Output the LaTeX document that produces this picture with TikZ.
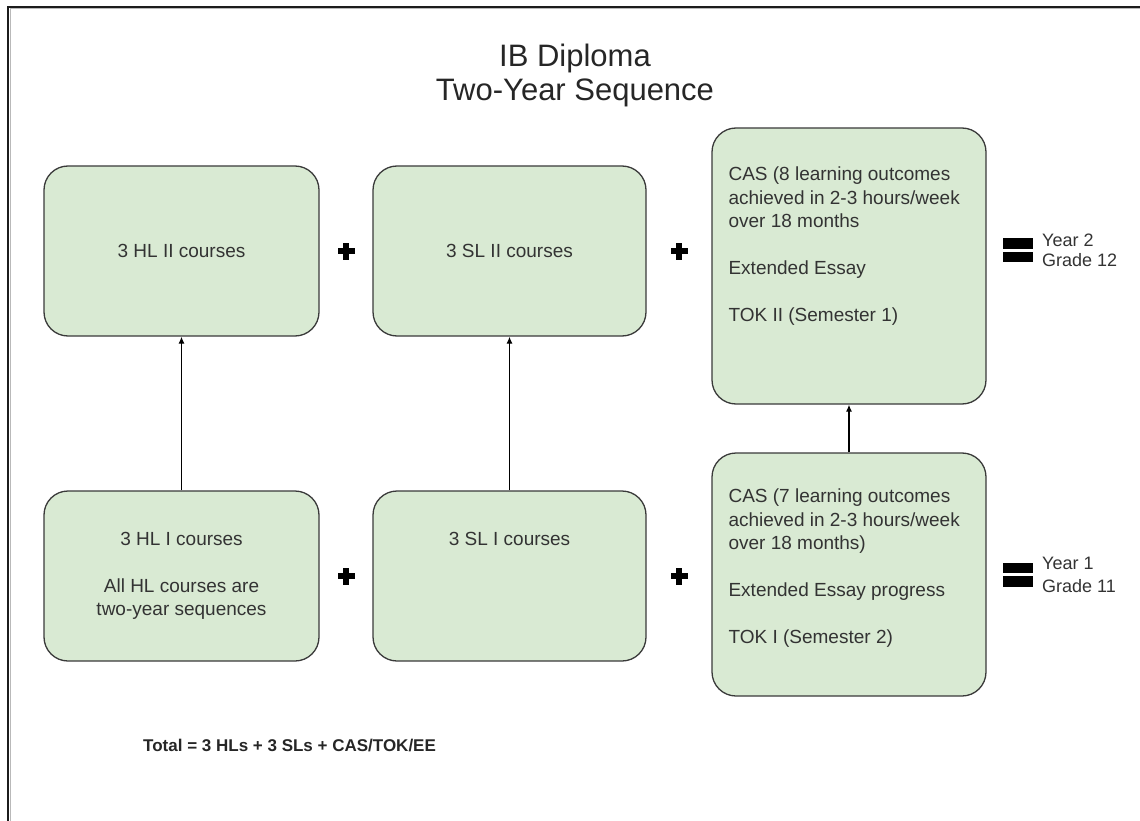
\documentclass[tikz,border=0pt]{standalone}
\usepackage{fontspec}
\setmainfont{Liberation Sans}
\usetikzlibrary{arrows.meta, calc}
\definecolor{boxgreen}{HTML}{D9EAD3}
\definecolor{boxline}{HTML}{3A3A3A}
\definecolor{frameline}{HTML}{1C1C1C}
\newcommand{\coursefont}{\fontsize{19}{23.5}\selectfont}

\begin{document}
\begin{tikzpicture}[x=1pt, y=-1pt,
        course/.style={draw=boxline, line width=1.3pt, fill=boxgreen, rounded corners=24pt,
                inner sep=0pt, align=center, font=\coursefont, text=black!80},
        casnote/.style={inner sep=0pt, align=left, font=\coursefont, text=black!80, anchor=north west},
        yearnote/.style={inner sep=0pt, align=left, anchor=west, text=black!80,
                font=\fontsize{18}{19.5}\selectfont},
        flow/.style={draw=black, line width=1.2pt, -{Latex[length=7pt, width=6pt]}}]

    \useasboundingbox (0,0) rectangle (1140,821);

    %% Frame
    \draw[gray!55, line width=1pt] (10,821) -- (10,9) -- (1140,9);
    \draw[frameline, line width=2pt] (8,821) -- (8,7) -- (1140,7);

    \node[inner sep=0pt, align=center, font=\fontsize{31}{34}\selectfont, text=black!85] (title)
    at (575,75) {IB Diploma\\Two-Year Sequence};

    %% Year 2
    \node[course, minimum width=275pt, minimum height=170pt] (hlii) at (181.5,251) {3 HL II courses};
    \node[course, minimum width=273pt, minimum height=170pt] (slii) at (509.5,251) {3 SL II courses};
    \node[course, minimum width=274pt, minimum height=276pt] (casii) at (849,266) {};
    \node[casnote] (casiitext) at ($(casii.north west)+(17,39.5)$)
    {CAS (8 learning outcomes\\achieved in 2-3 hours/week\\over 18 months\\[23.5pt]
            Extended Essay\\[23.5pt]TOK II (Semester 1)};

    %% Year 1
    \node[course, minimum width=275pt, minimum height=170pt] (hli) at (181.5,576)
    {3 HL I courses\\[23.5pt]All HL courses are\\two-year sequences};
    \node[course, minimum width=273pt, minimum height=170pt] (sli) at (509.5,576)
    {3 SL I courses\\[47pt]\vphantom{y}};
    \node[course, minimum width=274pt, minimum height=243pt] (casi) at (849,574.5) {};
    \node[casnote] (casitext) at ($(casi.north west)+(17,36.5)$)
    {CAS (7 learning outcomes\\achieved in 2-3 hours/week\\over 18 months)\\[23.5pt]
            Extended Essay progress\\[23.5pt]TOK I (Semester 2)};

    % Sequence arrows
    \draw[flow] (hli) -- (hlii);
    \draw[flow] (sli) -- (slii);
    \draw[flow] (casi) -- (casii);

    % Plus and equal marks
    \newcommand{\plusmark}[1]{
        \fill[black] ($(#1)+(-8.5,-3)$) rectangle ($(#1)+(8.5,3)$);
        \fill[black] ($(#1)+(-3,-8.5)$) rectangle ($(#1)+(3,8.5)$);
    }
    \foreach \x/\y in {346/251, 679/251, 346/576, 679/576}
    \plusmark{\x,\y};
    \foreach \y in {250, 574.5} {
            \fill[black] (1003,\y-12) rectangle (1033,\y-1.5);
            \fill[black] (1003,\y+1.5) rectangle (1033,\y+12);
        }

    \node[yearnote] (yearii) at (1042,250.5) {Year 2\\Grade 12};
    \node[yearnote] (yeari) at (1042,575) {Year 1\\[4pt]Grade 11};

    \node[anchor=west, inner sep=0pt, font=\fontsize{17}{20}\selectfont\bfseries, text=black!85] (total)
    at (143,746) {Total = 3 HLs + 3 SLs + CAS/TOK/EE};

\end{tikzpicture}
\end{document}
